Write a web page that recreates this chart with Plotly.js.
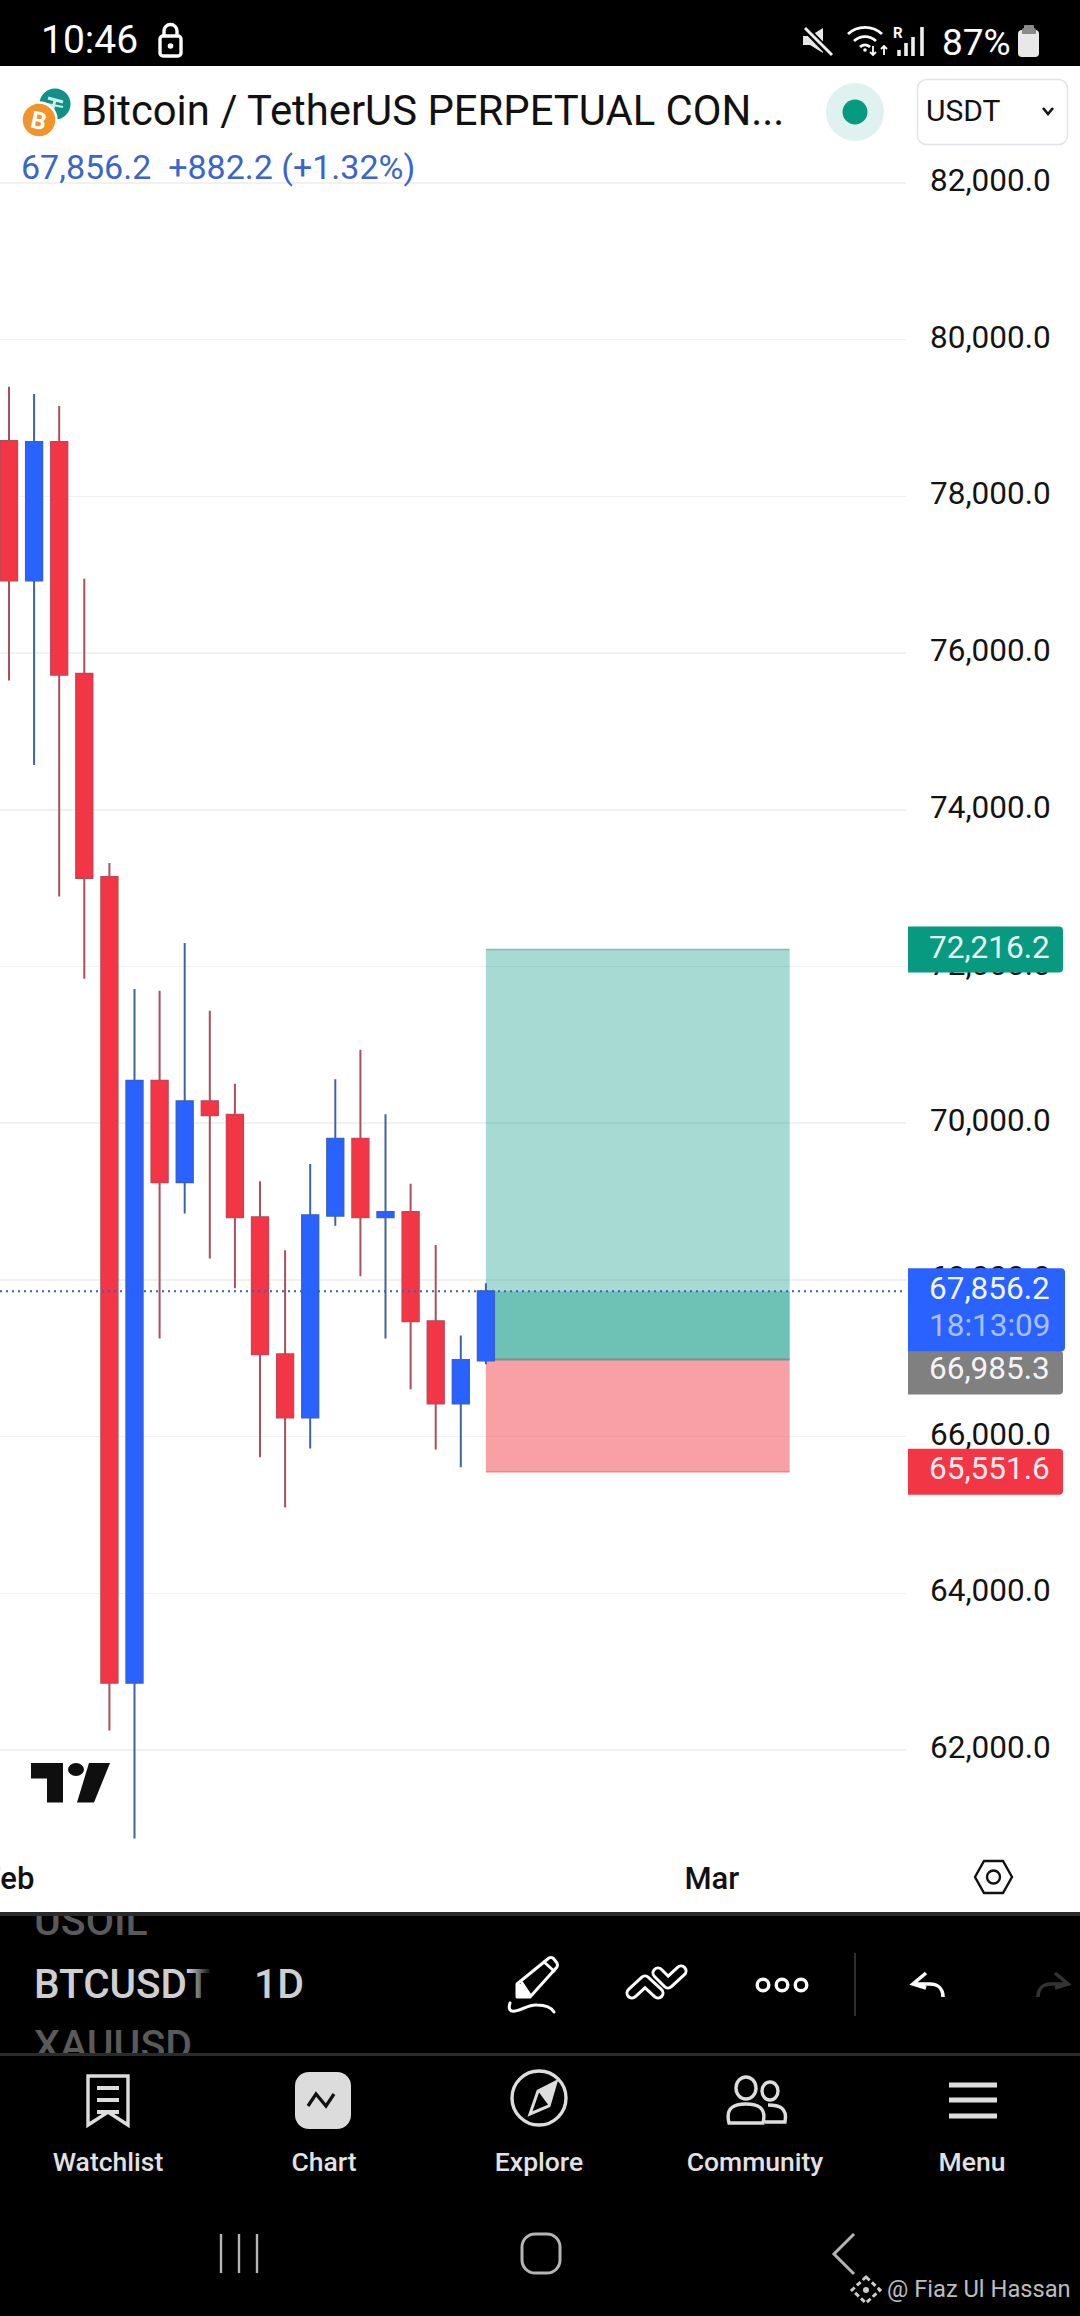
<!DOCTYPE html>
<html><head><meta charset="utf-8">
<script src="https://cdn.plot.ly/plotly-3.0.1.min.js"></script>
<style>
html,body{margin:0;padding:0;background:#fff;width:1080px;height:2316px;overflow:hidden;font-family:Roboto,sans-serif}
#chart{position:absolute;left:0;top:0;width:1080px;height:2316px}
.t{position:absolute;white-space:nowrap;line-height:1;font-family:Roboto,sans-serif}
svg.ov{position:absolute;left:0;top:0;width:1080px;height:2316px;pointer-events:none}
</style></head><body>
<div id="chart"></div>

<svg class="ov" viewBox="0 0 1080 2316">
  <!-- panels -->
  <rect x="0" y="0" width="1080" height="66" fill="#000"/>
  <rect x="0" y="1912" width="1080" height="404" fill="#000"/>
  <rect x="0" y="1912" width="1080" height="4" fill="#2b2b2b"/>
  <!-- header icons -->
  <circle cx="55" cy="104" r="15.500" fill="#0f9088"/>
  <path d="M48 98l15 4M55 100l-3 13" stroke="#cfeeea" stroke-width="3" fill="none"/>
  <path d="M47 104l16 3" stroke="#cfeeea" stroke-width="2" fill="none"/>
  <circle cx="39" cy="120" r="17.500" fill="#f0952c" stroke="#fff" stroke-width="2.500"/>
  <text x="39" y="129" font-family="Roboto" font-weight="700" font-size="24" fill="#fff" text-anchor="middle" transform="rotate(12 39 120)">B</text>
  <circle cx="855" cy="112" r="29" fill="#e0f2ef"/>
  <circle cx="855" cy="112" r="12.500" fill="#089981"/>
  <rect x="917.500" y="79.500" width="150" height="65" rx="9" fill="#fff" stroke="#e2e4ea" stroke-width="1.500"/>
  <path d="M1043 108l5 6 5-6" fill="none" stroke="#111" stroke-width="2.600"/>
  <!-- status icons -->
  <g fill="none" stroke="#fff" stroke-width="3.400">
    <rect x="160" y="36" width="21" height="20" rx="3"/>
    <path d="M164 36v-5a6.500 6.500 0 0 1 13 0v5"/>
  </g>
  <circle cx="170.500" cy="46" r="2.800" fill="#fff"/>
  <path d="M803 36h7l13-8v25l-13-8h-7z" fill="#e8e8e8"/>
  <path d="M803 26l29 30" stroke="#000" stroke-width="7"/>
  <path d="M805 28l27 27" stroke="#eee" stroke-width="3"/>
  <g fill="none" stroke="#fff" stroke-width="2.800">
    <path d="M848 34a25 25 0 0 1 34 0"/><path d="M854 41a16 16 0 0 1 22 0"/><path d="M860 47a7 7 0 0 1 10 0"/>
  </g>
  <circle cx="865" cy="50" r="1.800" fill="#fff"/>
  <path d="M873 46v9m-3-3l3 3 3-3M884 55v-9m-3 3l3-3 3 3" fill="none" stroke="#fff" stroke-width="1.800"/>
  <path d="M899 50v6M906 43v13M913 37v19M922 27v29" stroke="#eee" stroke-width="3.600"/>
  <text x="893" y="38" font-family="Roboto" font-weight="700" font-size="15" fill="#fff">R</text>
  <rect x="1018" y="30" width="21" height="27" rx="4" fill="#e8e8e8"/>
  <path d="M1022 30q0-2 2-2v-2q0-1 1-1h8q1 0 1 1v2q2 0 2 2v4h-14z" fill="#8a8a8a"/>
  <!-- settings hexagon -->
  <path d="M975 1877l9-16h19l9 16-9 16h-19z" fill="none" stroke="#111" stroke-width="2.400"/>
  <circle cx="993.500" cy="1877" r="6.500" fill="none" stroke="#111" stroke-width="2.400"/>
  <!-- TV logo -->
  <path d="M31 1763h32v39.500h-16v-24h-16z" fill="#0f0f0f"/>
  <ellipse cx="76" cy="1769.500" rx="8" ry="6.500" fill="#0f0f0f"/>
  <path d="M89 1763h21l-16 39.500h-17z" fill="#0f0f0f"/>
  <!-- toolbar icons -->
  <g fill="none" stroke="#fff" stroke-width="3" stroke-linejoin="round" stroke-linecap="round">
    <path d="M517 1984l32-26q2-1 4 0l4 5q1 2 0 4l-27 30h-13z"/>
    <path d="M544 1962l10 9M522 1983l8 12"/>
    <path d="M510 2003c-2 6 0 9 5 8 8-1 14-7 22-6 7 0 14 2 17 7"/>
  </g>
  <path d="M517 1984l6 0 7 13h-13z" fill="#fff"/>
  <g fill="none" stroke-linejoin="round" stroke-linecap="round">
    <path d="M632 1993l13-12 13 12" stroke="#fff" stroke-width="13"/>
    <path d="M632 1993l13-12 13 12" stroke="#000" stroke-width="7"/>
    <path d="M658 1973l10 10 13-12" stroke="#fff" stroke-width="13"/>
    <path d="M658 1973l10 10 13-12" stroke="#000" stroke-width="7"/>
  </g>
  <g fill="none" stroke="#fff" stroke-width="3.400">
    <circle cx="763" cy="1985" r="5.800"/><circle cx="782" cy="1985" r="5.800"/><circle cx="801" cy="1985" r="5.800"/>
  </g>
  <path d="M855 1953v63" stroke="#2e2e2e" stroke-width="2"/>
  <path d="M926 1973l-13 11 13 4M914 1984h16c8 0 13 5 13 13" fill="none" stroke="#fff" stroke-width="3.600"/>
  <path d="M1055 1973l13 11-13 4M1067 1984h-16c-8 0-13 5-13 13" fill="none" stroke="#333" stroke-width="3.600"/>
  <rect x="0" y="2053" width="1080" height="3" fill="#2b2b2b"/>
  <!-- nav icons -->
  <path d="M88 2076h40v49l-20-13-20 13z" fill="none" stroke="#ddd" stroke-width="3.400"/>
  <path d="M97 2088h22M97 2100h22M97 2112h22" stroke="#ddd" stroke-width="4"/>
  <rect x="295" y="2072" width="56" height="57" rx="14" fill="#dcdcdc"/>
  <path d="M308 2106l8-12 10 12 8-12" fill="none" stroke="#111" stroke-width="3.200"/>
  <circle cx="539" cy="2098" r="27" fill="none" stroke="#ddd" stroke-width="3.400"/>
  <path d="M556 2082l-7 24-19 8 8-23z" fill="none" stroke="#ddd" stroke-width="3"/>
  <path d="M556 2082l-7 24-11-15z" fill="#ddd"/>
  <g fill="none" stroke="#ddd" stroke-width="3.400">
    <ellipse cx="746" cy="2088" rx="10" ry="11"/><ellipse cx="770" cy="2091" rx="8" ry="9"/>
    <path d="M729 2123c-4-16 6-19 17-19s21 3 17 19z"/><path d="M768 2105c10 0 20 2 17 17h-20"/>
  </g>
  <path d="M949 2085h48M949 2100h48M949 2116h48" stroke="#ddd" stroke-width="5"/>
  <!-- android nav -->
  <path d="M221 2234v39M239 2234v39M257 2234v39" stroke="#b5b5b5" stroke-width="2.400"/>
  <rect x="522" y="2234" width="38" height="39" rx="13" fill="none" stroke="#b5b5b5" stroke-width="3"/>
  <path d="M854 2234l-20 20 20 20" fill="none" stroke="#b5b5b5" stroke-width="3"/>
  <path d="M866 2277l14 13-14 13-14-13z" fill="none" stroke="#ccc" stroke-width="3" stroke-dasharray="5 3"/>
  <circle cx="866" cy="2290" r="3" fill="#ccc"/>
</svg>

<div class="t" style="left:41px;top:21px;font-size:39px;color:#fff">10:46</div>
<div class="t" style="left:942px;top:24px;font-size:37px;color:#fff">87%</div>
<div class="t" style="left:926px;top:96px;font-size:30px;color:#111">USDT</div>

<div style="position:absolute;left:0;top:1916px;width:300px;height:137px;overflow:hidden">
  <div class="t" style="left:34px;top:-15px;font-size:41px;font-weight:500;color:#5a5a5a">USOIL</div>
  <div class="t" style="left:34px;top:48px;font-size:40.500px;font-weight:500;color:#cfcfcf;width:176px;overflow:hidden">BTCUSDT</div>
  <div class="t" style="left:34px;top:109px;font-size:41px;font-weight:500;color:#5a5a5a">XAUUSD</div>
</div>
<div style="position:absolute;left:188px;top:1960px;width:24px;height:50px;background:linear-gradient(90deg,rgba(0,0,0,0),#000)"></div>
<div class="t" style="left:254px;top:1964px;font-size:41px;font-weight:500;color:#cfcfcf">1D</div>

<div class="t" style="left:0;width:216px;text-align:center;top:2149px;font-size:26.500px;font-weight:500;color:#e2e2e2">Watchlist</div>
<div class="t" style="left:216px;width:216px;text-align:center;top:2149px;font-size:26.500px;font-weight:500;color:#e2e2e2">Chart</div>
<div class="t" style="left:431px;width:216px;text-align:center;top:2149px;font-size:26.500px;font-weight:500;color:#e2e2e2">Explore</div>
<div class="t" style="left:647px;width:216px;text-align:center;top:2149px;font-size:26.500px;font-weight:500;color:#e2e2e2">Community</div>
<div class="t" style="left:864px;width:216px;text-align:center;top:2149px;font-size:26.500px;font-weight:500;color:#e2e2e2">Menu</div>
<div class="t" style="left:887px;top:2278px;font-size:23.700px;color:#bdbdbd">@ Fiaz Ul Hassan</div>

<script>
// Daily BTCUSDT candles (dayIndex 0 = first Feb candle, Mar 1 = 28)
const dayIndex = [0,1,2,3,4,5,6,7,8,9,10,11,12,13,14,15,16,17,18,19];
const opens  = [78707,76927,78694,75736,73143,62858,70541,69246,70281,70107,68799,67051,66243,68820,69801,68799,68867,67471,66423,66970];
const highs  = [79399,79307,79154,76948,73321,71713,71690,72300,71434,70502,69260,68378,69480,70562,70936,70114,69227,68446,67291,67958];
const lows   = [75650,74572,72892,71844,62250,60870,67251,68846,68272,67892,65735,65094,65848,68692,68045,67251,66603,65836,65609,66923];
const closes = [76927,78694,75724,73131,62858,70541,69246,70281,70101,68799,67051,66243,68826,69801,68799,68867,67471,66423,66978,67856.2];

const priceTicks = [62000,64000,66000,68000,70000,72000,74000,76000,78000,80000,82000];
const timeTickPos = [0,28];
const timeTickText = ['Feb','Mar'];

// Long position tool
const toolStart = 19, toolEnd = 31.1;
const takeProfit = 72216.2, entry = 66985.3, stopLoss = 65551.6, lastPrice = 67856.2;
const countdown = '18:13:09';
const titleText = 'Bitcoin / TetherUS PERPETUAL CON...';
const quoteText = '67,856.2  +882.2 (+1.32%)';

const fmt = v => v.toLocaleString('en-US',{minimumFractionDigits:1,maximumFractionDigits:1});

// plot rectangle in page pixels
const L=0,R=906,T=130,B=1845;
const pxPerUsd = 0.07835;
const yTop = 82000+(183-T)/pxPerUsd, yBot = 82000-(B-183)/pxPerUsd;
const pxPerDay = 25.1;
const xLo = (L-9)/pxPerDay, xHi = (R-9)/pxPerDay;
const xp = px => (px-L)/(R-L);
const yp = py => (B-py)/(B-T);

const RED='#f23645',BLUE='#2962ff',GREEN='#089981';
const bodyHi = opens.map((o,i)=>Math.max(o,closes[i]));
const bodyLo = opens.map((o,i)=>Math.min(o,closes[i]));

const wicks = {type:'candlestick',x:dayIndex,open:opens,high:highs,low:lows,close:closes,whiskerwidth:0,
  increasing:{line:{color:'#41639f',width:2},fillcolor:BLUE},
  decreasing:{line:{color:'#a9505f',width:2},fillcolor:RED},hoverinfo:'skip',showlegend:false};
const bodies = {type:'candlestick',x:dayIndex,open:opens,high:bodyHi,low:bodyLo,close:closes,whiskerwidth:0,
  increasing:{line:{color:BLUE,width:0.5},fillcolor:BLUE},
  decreasing:{line:{color:RED,width:0.5},fillcolor:RED},hoverinfo:'skip',showlegend:false};

function badge(price,x0,x1,up,down,color){ // offsets in pixels from the price level
  const r=4, X0=x0-R, X1=x1-R;
  return {type:'path',layer:'above',xref:'paper',yref:'y',xsizemode:'pixel',ysizemode:'pixel',
    xanchor:1,yanchor:price,fillcolor:color,line:{width:0},
    path:`M${X0},${up} L${X1-r},${up} Q${X1},${up} ${X1},${up-r} L${X1},${-down+r} Q${X1},${-down} ${X1-r},${-down} L${X0},${-down} Z`};
}
function badgeText(text,price,shift,color){
  return {text,x:xp(1052),xref:'paper',y:price,yref:'y',xanchor:'right',yanchor:'middle',showarrow:false,yshift:shift,
    font:{family:'Roboto',size:31.5,color}};
}

const shapes=[
  {type:'rect',layer:'between',xref:'x',yref:'y',x0:toolStart,x1:toolEnd,y0:entry,y1:takeProfit,fillcolor:'rgba(8,153,129,0.36)',line:{width:0}},
  {type:'rect',layer:'between',xref:'x',yref:'y',x0:toolStart,x1:toolEnd,y0:entry,y1:lastPrice,fillcolor:'rgba(8,153,129,0.36)',line:{width:0}},
  {type:'rect',layer:'between',xref:'x',yref:'y',x0:toolStart,x1:toolEnd,y0:stopLoss,y1:entry,fillcolor:'rgba(242,54,69,0.47)',line:{width:0}},
  {type:'line',layer:'between',xref:'x',yref:'y',x0:toolStart,x1:toolEnd,y0:takeProfit,y1:takeProfit,line:{color:'#7cc0b2',width:1.5}},
  {type:'line',layer:'between',xref:'x',yref:'y',x0:toolStart,x1:toolEnd,y0:stopLoss,y1:stopLoss,line:{color:'#ec8591',width:1.5}},
  {type:'line',layer:'between',xref:'x',yref:'y',x0:toolStart,x1:toolEnd,y0:entry,y1:entry,line:{color:'#7f8f8c',width:2}},
  {type:'line',layer:'above',xref:'paper',yref:'y',x0:0,x1:1,y0:lastPrice,y1:lastPrice,line:{color:'#3560c4',width:2,dash:'2px,4px'}},
  badge(takeProfit,908,1063,23,23,GREEN),
  badge(entry,908,1063,9,35,'#808080'),
  badge(stopLoss,908,1063,23,23,RED),
  badge(lastPrice,908,1065,23,60,BLUE)
];

const annotations=[
  {text:quoteText,x:xp(19),xref:'paper',y:yp(167),yref:'paper',xanchor:'left',yanchor:'middle',showarrow:false,font:{family:'Roboto',size:34,color:'#3b66c8'}},
  badgeText(fmt(takeProfit),takeProfit,2,'#e8f7f3'),
  badgeText(fmt(lastPrice),lastPrice,3,'#f2f5ff'),
  badgeText(countdown,lastPrice,-34,'#a9c0ff'),
  badgeText(fmt(entry),entry,-9,'#f4f4f4'),
  badgeText(fmt(stopLoss),stopLoss,3,'#fdeaec')
];

const layout={
  width:1080,height:2316,autosize:false,
  margin:{l:L,r:1080-R,t:T,b:2316-B,pad:0},
  paper_bgcolor:'#fff',plot_bgcolor:'#fff',showlegend:false,hovermode:false,dragmode:false,
  boxgap:0.35,boxgroupgap:0,boxmode:'overlay',
  title:{text:titleText,x:81/1080,xref:'container',xanchor:'left',y:1-110/2316,yref:'container',yanchor:'middle',font:{family:'Roboto',size:41.8,color:'#111'}},
  xaxis:{type:'linear',range:[xLo,xHi],tickmode:'array',tickvals:timeTickPos,ticktext:timeTickText,showgrid:false,zeroline:false,showline:false,
    ticklen:0,ticklabelstandoff:12,ticklabeloverflow:'allow',rangeslider:{visible:false},fixedrange:true,
    tickfont:{family:'Roboto',size:31,color:'#111',weight:500}},
  yaxis:{type:'linear',side:'right',range:[yBot,yTop],tickmode:'array',tickvals:priceTicks,tickformat:',.1f',showgrid:true,gridcolor:'#f0f1f4',gridwidth:1.5,
    zeroline:false,showline:false,ticklen:0,ticklabelstandoff:23,ticklabelshift:-3,ticklabeloverflow:'allow',fixedrange:true,
    tickfont:{family:'Roboto',size:31.5,color:'#131313'}},
  shapes,annotations
};
Plotly.newPlot('chart',[wicks,bodies],layout,{staticPlot:true,displayModeBar:false});
</script>
</body></html>
